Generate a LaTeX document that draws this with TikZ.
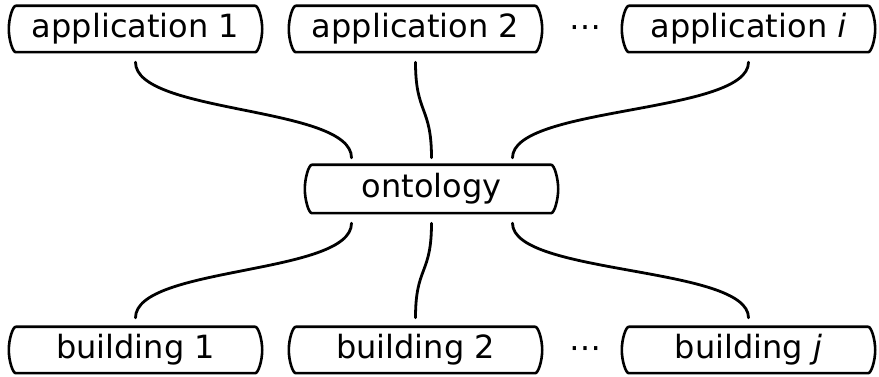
\documentclass[tikz,border=0pt]{standalone}
\usepackage{fontspec}
\setmainfont{DejaVu Sans}
\begin{document}
\begin{tikzpicture}[x=1pt,y=1pt,
  box/.style={rectangle, draw=none, minimum width=253pt, minimum height=46pt, inner sep=0pt,
    font=\fontsize{32}{38}\selectfont},
  boxline/.style={line width=2.6pt, line join=round},
  link/.style={line width=2.8pt, line cap=round},
  dots/.style={font=\fontsize{32}{38}\selectfont, inner sep=0pt, anchor=base}]
\useasboundingbox (0,0) rectangle (879,377);
\newcommand\outl[1]{%
  \draw[boxline] ([xshift=7pt]#1.north west) -- ([xshift=-7pt]#1.north east)
    .. controls +(3,0) and +(0,11) .. (#1.east)
    .. controls +(0,-11) and +(3,0) .. ([xshift=-7pt]#1.south east)
    -- ([xshift=7pt]#1.south west)
    .. controls +(-3,0) and +(0,-11) .. (#1.west)
    .. controls +(0,11) and +(-3,0) .. cycle;}
\node[box] (a1) at (135.5,348) {application 1};
\node[box] (a2) at (415.5,348) {application 2};
\node[box] (ai) at (748.5,348) {application \textit{i}};
\node[dots] (d1) at (585,339) {⋯};
\node[box, minimum height=48pt] (on) at (431.5,188) {ontology};
\node[box] (b1) at (135.5,27) {building 1};
\node[box] (b2) at (415.5,27) {building 2};
\node[box] (bj) at (748.5,27) {building \textit{j}};
\node[dots] (d2) at (585,18) {⋯};
\outl{a1}\outl{a2}\outl{ai}\outl{on}\outl{b1}\outl{b2}\outl{bj}
% top links
\draw[link] ([yshift=-10pt]a1.south) .. controls +(0,-52) and +(0,52) .. ([xshift=-80pt,yshift=7pt]on.north);
\draw[link] ([yshift=-10pt]a2.south) .. controls +(0,-52) and +(0,52) .. ([xshift=0pt,yshift=7pt]on.north);
\draw[link] ([yshift=-10pt]ai.south) .. controls +(0,-52) and +(0,52) .. ([xshift=81pt,yshift=7pt]on.north);
% bottom links
\draw[link] ([xshift=-80pt,yshift=-10pt]on.south) .. controls +(0,-52) and +(0,52) .. ([yshift=9pt]b1.north);
\draw[link] ([xshift=0pt,yshift=-10pt]on.south) .. controls +(0,-52) and +(0,52) .. ([yshift=9pt]b2.north);
\draw[link] ([xshift=81pt,yshift=-10pt]on.south) .. controls +(0,-52) and +(0,52) .. ([yshift=9pt]bj.north);
\end{tikzpicture}
\end{document}
